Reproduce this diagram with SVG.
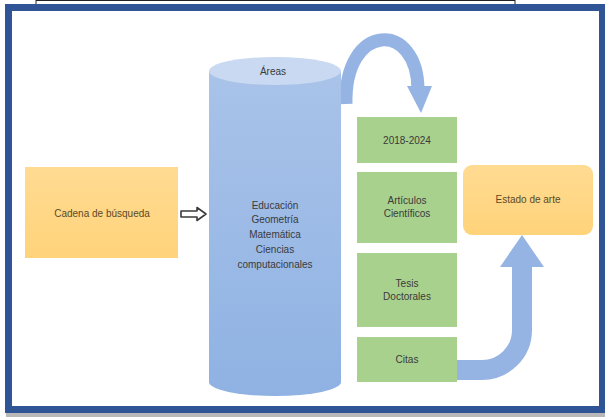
<svg xmlns="http://www.w3.org/2000/svg" width="605" height="417" viewBox="0 0 605 417">
<defs>
<style>
.t{font-family:"Liberation Sans",Arial,sans-serif;font-size:10px;fill:#3a3a3a;text-anchor:middle}
.tb{fill:#5a4a26}
.green{fill:#A9D18E}
.arr{fill:none;stroke:#95B4E4}
</style>
<linearGradient id="cyl" x1="0" y1="0" x2="0" y2="1">
<stop offset="0" stop-color="#A9C3E9"/>
<stop offset="1" stop-color="#8FB2E3"/>
</linearGradient>
<linearGradient id="org" x1="0" y1="0" x2="0" y2="1">
<stop offset="0" stop-color="#FFDB92"/>
<stop offset="1" stop-color="#FFD37A"/>
</linearGradient>
</defs>
<rect width="605" height="417" fill="#fff"/>
<!-- top table lines -->
<line x1="36" y1="0.5" x2="515" y2="0.5" stroke="#222" stroke-width="1"/>
<line x1="36" y1="0" x2="36" y2="4" stroke="#222" stroke-width="1"/>
<line x1="515" y1="0" x2="515" y2="4" stroke="#222" stroke-width="1"/>
<!-- shadow -->
<rect x="6" y="412" width="599" height="5" fill="#b8b8b8"/>
<!-- frame -->
<rect x="8.5" y="7.5" width="594" height="402" fill="#fff" stroke="#2F5597" stroke-width="7"/>
<g id="connectors">
<path class="arr" d="M346 104 C 344 22, 418 20, 418 90" stroke-width="13"/>
<polygon points="407,86 432,86 421,113" fill="#95B4E4"/>
<path class="arr" d="M454 370 L 482 370 A 40 40 0 0 0 522 330 L 522 264" stroke-width="20"/>
<polygon points="500,267 544,267 522,235" fill="#95B4E4"/>
<path d="M181 211 L197 211 L197 207.5 L206 214 L197 220.5 L197 217 L181 217 Z" fill="#fff" stroke="#3a3a3a" stroke-width="1.6" stroke-linejoin="round"/>
</g>
<g id="cadena">
<rect x="25" y="167" width="153" height="91" fill="url(#org)"/>
<text class="t tb" x="102" y="217">Cadena de búsqueda</text>
</g>
<g id="areas">
<path d="M209 71 L209 382 A66 14 0 0 0 341 382 L341 71 Z" fill="url(#cyl)"/>
<ellipse cx="275" cy="71" rx="66" ry="14" fill="#C8D9F1"/>
<text class="t" x="273" y="75">Áreas</text>
<text class="t" x="275" y="209">Educación</text>
<text class="t" x="275" y="223">Geometría</text>
<text class="t" x="275" y="238">Matemática</text>
<text class="t" x="275" y="253">Ciencias</text>
<text class="t" x="275" y="268">computacionales</text>
</g>
<g id="anios">
<rect class="green" x="357" y="117" width="100" height="46"/>
<text class="t" x="407" y="144">2018-2024</text>
</g>
<g id="articulos">
<rect class="green" x="357" y="172" width="100" height="71"/>
<text class="t" x="407" y="204">Artículos</text>
<text class="t" x="407" y="217">Científicos</text>
</g>
<g id="tesis">
<rect class="green" x="357" y="253" width="100" height="74"/>
<text class="t" x="407" y="287">Tesis</text>
<text class="t" x="407" y="300">Doctorales</text>
</g>
<g id="citas">
<rect class="green" x="357" y="337" width="100" height="45"/>
<text class="t" x="407" y="363">Citas</text>
</g>
<g id="estado">
<rect x="463" y="165" width="130" height="70" rx="9" fill="url(#org)"/>
<text class="t tb" x="528" y="203">Estado de arte</text>
</g>
</svg>
